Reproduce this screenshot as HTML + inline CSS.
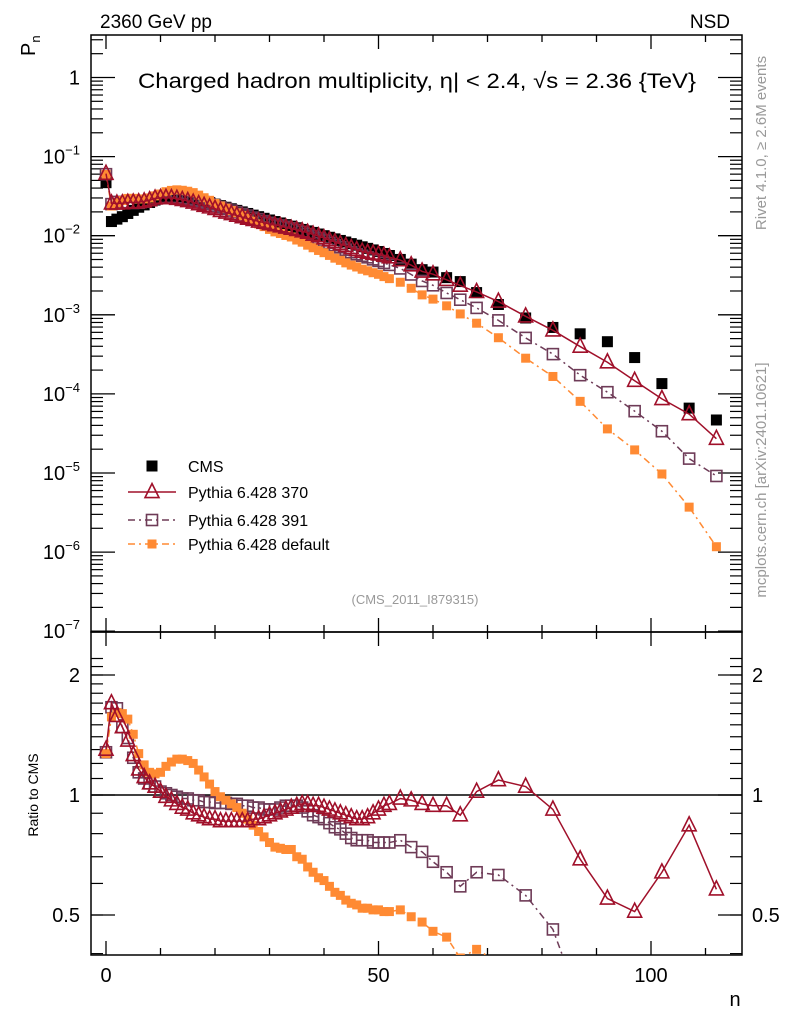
<!DOCTYPE html>
<html><head><meta charset="utf-8"><style>
html,body{margin:0;padding:0;background:#fff;width:786px;height:1024px;overflow:hidden;}
svg{display:block;font-family:"Liberation Sans",sans-serif;}
</style></head><body>
<svg id="chart" width="786" height="1024" viewBox="0 0 786 1024" overflow="hidden" xmlns="http://www.w3.org/2000/svg">
<defs>
<clipPath id="clipMain"><rect x="91" y="35" width="651" height="597"/></clipPath>
<clipPath id="clipRatio"><rect x="91" y="632" width="651" height="323"/></clipPath>
</defs>
<text x="100" y="28" font-size="19">2360 GeV pp</text>
<text x="730" y="28" font-size="19" text-anchor="end">NSD</text>
<text transform="translate(35,56) rotate(-90)" font-size="20">P<tspan font-size="13" dy="5">n</tspan></text>
<text x="417" y="88" font-size="21.5" text-anchor="middle" textLength="558" lengthAdjust="spacingAndGlyphs">Charged hadron multiplicity, η| &lt; 2.4, √s = 2.36 {TeV}</text>
<text x="415" y="604" font-size="13" fill="#999" text-anchor="middle">(CMS_2011_I879315)</text>
<text transform="translate(766,143) rotate(-90)" font-size="15" fill="#999" text-anchor="middle">Rivet 4.1.0, ≥ 2.6M events</text>
<text transform="translate(766,480) rotate(-90)" font-size="15" fill="#999" text-anchor="middle">mcplots.cern.ch [arXiv:2401.10621]</text>
<text transform="translate(38,795) rotate(-90)" font-size="14" text-anchor="middle">Ratio to CMS</text>
<text x="735" y="1006" font-size="20" text-anchor="middle">n</text>
<g id="axes"></g>
<g id="marks"></g>
<g id="legend"></g>
</svg>
<script>
const nVals=[0,1,2,3,4,5,6,7,8,9,10,11,12,13,14,15,16,17,18,19,20,21,22,23,24,25,26,27,28,29,30,31,32,33,34,35,36,37,38,39,40,41,42,43,44,45,46,47,48,49,50,51,52,54,56,58,60,62.5,65,68,72,77,82,87,92,97,102,107,112];
const cmsVals=[0.0468,0.0151,0.0162,0.0174,0.0191,0.0209,0.0229,0.0245,0.0263,0.0282,0.0295,0.0305,0.0309,0.0309,0.0305,0.0299,0.0292,0.0282,0.0272,0.0263,0.0251,0.0240,0.0229,0.0219,0.0209,0.0200,0.0191,0.0182,0.0174,0.0166,0.0158,0.0151,0.0145,0.0138,0.0132,0.0126,0.0120,0.0115,0.0110,0.0105,0.0100,0.00955,0.00912,0.00871,0.00832,0.00794,0.00759,0.00724,0.00692,0.00661,0.00631,0.00596,0.00562,0.00501,0.00437,0.00372,0.00347,0.00295,0.00263,0.00191,0.00135,0.000912,0.000692,0.000575,0.000457,0.000288,0.000135,0.0000661,0.0000468];
const ratio370=[1.30,1.70,1.58,1.48,1.37,1.26,1.16,1.11,1.07,1.05,1.02,0.99,0.97,0.95,0.93,0.92,0.90,0.89,0.88,0.87,0.87,0.86,0.86,0.86,0.86,0.86,0.86,0.87,0.87,0.88,0.89,0.90,0.91,0.92,0.93,0.94,0.95,0.95,0.94,0.94,0.93,0.92,0.91,0.90,0.89,0.88,0.87,0.87,0.88,0.90,0.92,0.94,0.95,0.98,0.97,0.95,0.94,0.94,0.89,1.02,1.09,1.05,0.92,0.69,0.55,0.51,0.64,0.84,0.58];
const ratio391=[1.28,1.66,1.65,1.48,1.39,1.24,1.14,1.10,1.07,1.05,1.02,1.01,1.00,0.99,0.98,0.98,0.97,0.97,0.96,0.96,0.955,0.955,0.955,0.95,0.95,0.94,0.94,0.93,0.93,0.92,0.92,0.92,0.93,0.94,0.94,0.94,0.93,0.91,0.89,0.88,0.87,0.85,0.83,0.82,0.80,0.78,0.77,0.77,0.77,0.76,0.76,0.76,0.76,0.77,0.74,0.72,0.68,0.64,0.59,0.64,0.63,0.56,0.46,0.30,0.23,0.21,0.25,0.23,0.196];
const ratioDef=[1.27,1.57,1.61,1.60,1.55,1.42,1.27,1.19,1.14,1.13,1.14,1.18,1.21,1.23,1.23,1.22,1.20,1.155,1.11,1.065,1.02,0.99,0.97,0.95,0.93,0.90,0.87,0.84,0.81,0.785,0.76,0.74,0.735,0.73,0.73,0.70,0.69,0.66,0.64,0.62,0.61,0.59,0.57,0.56,0.545,0.535,0.53,0.52,0.52,0.515,0.515,0.51,0.51,0.515,0.495,0.48,0.455,0.44,0.39,0.41,0.38,0.31,0.24,0.14,0.079,0.068,0.072,0.056,0.025];
const xTicks=[0,50,100];
const ratioTicks=[0.5,1,2];
const decades=[0,-1,-2,-3,-4,-5,-6,-7];

const NS="http://www.w3.org/2000/svg";
const L=91,R=742,T=35,MB=632,RB=955;
const xS=n=>106+5.45*n;
const yS=p=>77.5-79.1*Math.log10(p);
const rS=r=>795-120*Math.log2(r);
function mk(tag,attrs,parent){const e=document.createElementNS(NS,tag);for(const k in attrs)e.setAttribute(k,attrs[k]);parent.appendChild(e);return e;}
const axes=document.getElementById('axes'),marks=document.getElementById('marks'),leg=document.getElementById('legend');

let f1=mk('rect',{x:L,y:T,width:R-L,height:MB-T,fill:'none',stroke:'#000','stroke-width':1.5},axes);

let f2=mk('rect',{x:L,y:MB,width:R-L,height:RB-MB,fill:'none',stroke:'#000','stroke-width':1.5},axes);

for(let n=0;n<=120;n+=10){const x=xS(n);if(x>R)continue;const big=n%50===0;const len=big?14:7;
 [[T,1],[MB,-1],[MB,1],[RB,-1]].forEach(([y0,d])=>{mk('line',{x1:x,x2:x,y1:y0,y2:y0+d*len,stroke:'#000','stroke-width':1.3},axes);});}
xTicks.forEach(v=>{const t=mk('text',{x:xS(v),y:982,'font-size':20,'text-anchor':'middle'},axes);t.textContent=String(v);
 });
decades.forEach(d=>{const y=yS(Math.pow(10,d));
 [[L,1],[R,-1]].forEach(([x0,s])=>mk('line',{x1:x0,x2:x0+s*24,y1:y,y2:y,stroke:'#000','stroke-width':1.3},axes));
 for(let m=2;m<=9;m++){const ym=yS(m*Math.pow(10,d));if(ym<T)continue;[[L,1],[R,-1]].forEach(([x0,s])=>mk('line',{x1:x0,x2:x0+s*12,y1:ym,y2:ym,stroke:'#000','stroke-width':1.2},axes));}
 const t=mk('text',{x:80,y:y+7,'font-size':20,'text-anchor':'end'},axes);
 
 if(d===0)t.textContent='1';else{t.textContent='10';const s=mk('tspan',{dy:-9,'font-size':13},t);s.textContent='\u2212'+(-d);}
});
for(let r=0.4;r<=2.3;r+=0.1){const y=rS(r);if(y<MB||y>RB)continue;[[L,1],[R,-1]].forEach(([x0,s])=>mk('line',{x1:x0,x2:x0+s*12,y1:y,y2:y,stroke:'#000','stroke-width':1.2},axes));}
ratioTicks.forEach(r=>{const y=rS(r);[[L,1],[R,-1]].forEach(([x0,s])=>mk('line',{x1:x0,x2:x0+s*24,y1:y,y2:y,stroke:'#000','stroke-width':1.3},axes));
 [[80,'end'],[752,'start']].forEach(([x,a])=>{const t=mk('text',{x:x,y:y+7,'font-size':20,'text-anchor':a},axes);t.textContent=String(r);
 });});
let ul=mk('line',{x1:L,x2:R,y1:rS(1),y2:rS(1),stroke:'#000','stroke-width':1.5},axes);


function marker(g,type,x,y,col,sz){
 if(type==='fsq') return mk('rect',{x:x-sz/2,y:y-sz/2,width:sz,height:sz,fill:col},g);
 if(type==='osq') return mk('rect',{x:x-sz/2,y:y-sz/2,width:sz,height:sz,fill:'none',stroke:col,'stroke-width':1.6},g);
 if(type==='tri') return mk('polygon',{points:`${x},${y-sz*0.6} ${x-sz/2},${y+sz*0.4} ${x+sz/2},${y+sz*0.4}`,fill:'none',stroke:col,'stroke-width':1.6},g);
}
const series=[
 {name:'pythia-391',ratio:ratio391,col:'#6e3b57',type:'osq',sz:11,dash:'7 4 2 4'},
 {name:'pythia-default',ratio:ratioDef,col:'#ff8a33',type:'fsq',sz:9,dash:'7 4 2 4'},
 {name:'pythia-370',ratio:ratio370,col:'#a0102a',type:'tri',sz:14,dash:''}
];
const gMain=mk('g',{'clip-path':'url(#clipMain)'},marks);
const gRat=mk('g',{'clip-path':'url(#clipRatio)'},marks);
cmsVals.forEach((p,i)=>{const m=marker(gMain,'fsq',xS(nVals[i]),yS(p),'#000',11);
 });
series.forEach(s=>{
 const ptsM=[],ptsR=[];
 s.ratio.forEach((r,i)=>{ptsM.push([xS(nVals[i]),yS(cmsVals[i]*r)]);ptsR.push([xS(nVals[i]),rS(r)]);});
 [[gMain,ptsM,'main'],[gRat,ptsR,'ratio']].forEach(([g,pts,pn])=>{
  const pl=mk('polyline',{points:pts.map(p=>p.join(',')).join(' '),fill:'none',stroke:s.col,'stroke-width':1.5,'stroke-dasharray':s.dash},g);
  
  pts.forEach(p=>{const m=marker(g,s.type,p[0],p[1],s.col,s.sz);
   });
 });
});
const le=[{t:'CMS',type:'fsq',col:'#000',sz:11,y:466,line:false},
 {t:'Pythia 6.428 370',type:'tri',col:'#a0102a',sz:14,y:492,line:true,dash:''},
 {t:'Pythia 6.428 391',type:'osq',col:'#6e3b57',sz:11,y:520,line:true,dash:'7 4 2 4'},
 {t:'Pythia 6.428 default',type:'fsq',col:'#ff8a33',sz:9,y:544,line:true,dash:'7 4 2 4'}];
le.forEach(e=>{const g=mk('g',{},leg);
 
 if(e.line)mk('line',{x1:128,x2:176,y1:e.y,y2:e.y,stroke:e.col,'stroke-width':1.5,'stroke-dasharray':e.dash},g);
 marker(g,e.type,152,e.y,e.col,e.sz);
 const t=mk('text',{x:188,y:e.y+6,'font-size':16},g);t.textContent=e.t;});
</script>
</body></html>
